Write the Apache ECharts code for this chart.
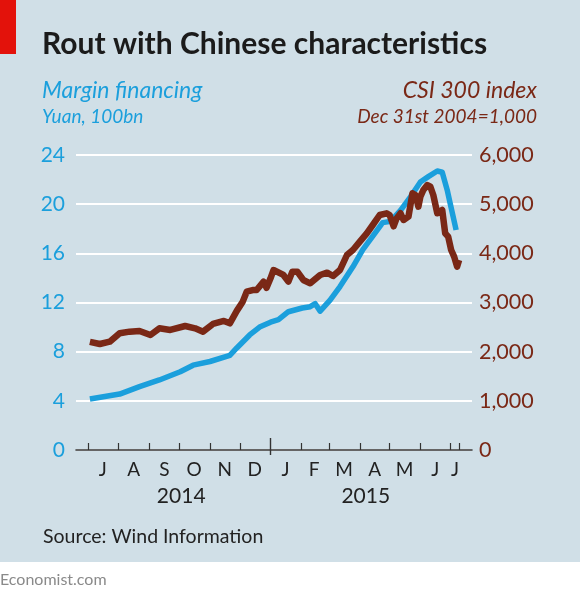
<!DOCTYPE html>
<html>
<head>
<meta charset="utf-8">
<script src="https://cdn.jsdelivr.net/npm/echarts@6/dist/echarts.min.js"></script>
<style>
  html, body { margin: 0; padding: 0; background: #fff; }
  #chart { width: 580px; height: 598px; }
</style>
</head>
<body>
<div id="chart"></div>
<script>
// margin financing, yuan 100bn
var marginDates = ['2014-07-03', '2014-07-18', '2014-08-02', '2014-08-22', '2014-09-11', '2014-10-02',
  '2014-10-15', '2014-11-01', '2014-11-21', '2014-11-28', '2014-12-11', '2014-12-21', '2015-01-01',
  '2015-01-09', '2015-01-19', '2015-02-02', '2015-02-10', '2015-02-15', '2015-02-20', '2015-03-02',
  '2015-03-12', '2015-03-25', '2015-04-04', '2015-04-14', '2015-04-24', '2015-05-02', '2015-05-12',
  '2015-05-22', '2015-05-30', '2015-06-01', '2015-06-09', '2015-06-18', '2015-06-23', '2015-06-28',
  '2015-07-01', '2015-07-04', '2015-07-07'];
var marginValues = [4.15, 4.35, 4.55, 5.15, 5.7, 6.37,
  6.9, 7.2, 7.7, 8.3, 9.36, 10.0, 10.4,
  10.6, 11.25, 11.55, 11.66, 11.9, 11.3, 12.2,
  13.3, 14.9, 16.3, 17.4, 18.5, 18.6, 19.5,
  20.6, 21.56, 21.8, 22.24, 22.7, 22.6, 21.16,
  20.07, 18.98, 17.9];

// CSI 300 index
var csiDates = ['2014-07-03', '2014-07-13', '2014-07-23', '2014-08-02', '2014-08-12', '2014-08-22',
  '2014-09-02', '2014-09-11', '2014-09-22', '2014-10-07', '2014-10-17', '2014-10-25', '2014-11-04',
  '2014-11-15', '2014-11-21', '2014-11-28', '2014-12-04', '2014-12-08', '2014-12-14', '2014-12-18',
  '2014-12-25', '2014-12-28', '2015-01-01', '2015-01-04', '2015-01-14', '2015-01-19', '2015-01-23',
  '2015-01-28', '2015-02-03', '2015-02-10', '2015-02-20', '2015-02-27', '2015-03-05', '2015-03-12',
  '2015-03-19', '2015-03-25', '2015-04-01', '2015-04-08', '2015-04-14', '2015-04-21', '2015-04-28',
  '2015-05-01', '2015-05-05', '2015-05-08', '2015-05-12', '2015-05-15', '2015-05-20', '2015-05-24',
  '2015-05-27', '2015-05-30', '2015-06-01', '2015-06-04', '2015-06-08', '2015-06-11', '2015-06-14',
  '2015-06-18', '2015-06-23', '2015-06-26', '2015-06-29', '2015-07-02', '2015-07-05', '2015-07-08',
  '2015-07-10'];
var csiValues = [2200, 2156, 2203, 2373, 2407, 2420,
  2339, 2475, 2441, 2522, 2475, 2407, 2563,
  2624, 2577, 2830, 3017, 3220, 3254, 3254,
  3424, 3300, 3492, 3661, 3560, 3424, 3627,
  3627, 3458, 3390, 3560, 3607, 3539, 3661,
  3966, 4068, 4237, 4407, 4576, 4780, 4814,
  4780, 4550, 4710, 4814, 4678, 4746, 5221,
  5187, 4950, 5153, 5288, 5390, 5356, 5187,
  4814, 4882, 4407, 4339, 4068, 3932, 3729,
  3865];

// axis ticks and labels
var monthTicks = ['2014-07-01', '2014-08-01', '2014-09-01', '2014-10-01', '2014-11-01', '2014-12-01',
  '2015-02-01', '2015-03-01', '2015-04-01', '2015-05-01', '2015-06-01', '2015-07-01', '2015-07-10'];
var monthLabelDates = ['2014-07-16', '2014-08-16', '2014-09-16', '2014-10-16', '2014-11-16', '2014-12-16',
  '2015-01-16', '2015-02-14', '2015-03-16', '2015-04-16', '2015-05-16', '2015-06-16', '2015-07-06'];
var monthLabels = ['J', 'A', 'S', 'O', 'N', 'D', 'J', 'F', 'M', 'A', 'M', 'J', 'J'];
var yearTicks = ['2015-01-01'];
var yearLabelDates = ['2014-10-03', '2015-04-07'];
var yearLabels = ['2014', '2015'];

var FONT = 'Lato';
var BLUE = '#1b9fdc';
var BROWN = '#7a2816';
var BG = '#d0dfe7';

// days since Jul 1st 2014
var ORIGIN = Date.UTC(2014, 6, 1);
function day(s) {
  var p = s.split('-');
  return Math.round((Date.UTC(+p[0], +p[1] - 1, +p[2]) - ORIGIN) / 86400000);
}

function labelFor(dates, labels) {
  var map = {};
  dates.forEach(function (d, i) { map[day(d)] = labels[i]; });
  return function (v) { return map[Math.round(v)] || ''; };
}

var X_MIN = day('2014-06-19');
var X_MAX = day('2015-07-23');

var chart = echarts.init(document.getElementById('chart'), null, { renderer: 'canvas' });

var option = {
  backgroundColor: '#fff',
  animation: false,
  textStyle: { fontFamily: FONT },
  graphic: [
    { type: 'rect', z: -100, silent: true, shape: { x: 0, y: 0, width: 580, height: 562 }, style: { fill: BG } },
    { type: 'rect', z: 10, shape: { x: 0, y: 0, width: 16, height: 54 }, style: { fill: '#e3120b' } },
    { type: 'text', x: 42, y: 44, style: { text: 'Rout with Chinese characteristics', fill: '#1b1b1b',
      font: 'bold 30px ' + FONT, textVerticalAlign: 'middle' } },
    { type: 'text', x: 42, y: 91, style: { text: 'Margin financing', fill: BLUE,
      font: 'italic 23px ' + FONT, textVerticalAlign: 'middle' } },
    { type: 'text', x: 42, y: 117, style: { text: 'Yuan, 100bn', fill: BLUE,
      font: 'italic 19px ' + FONT, textVerticalAlign: 'middle' } },
    { type: 'text', x: 537, y: 91, style: { text: 'CSI 300 index', fill: BROWN, textAlign: 'right',
      font: 'italic 23px ' + FONT, textVerticalAlign: 'middle' } },
    { type: 'text', x: 537, y: 117, style: { text: 'Dec 31st 2004=1,000', fill: BROWN, textAlign: 'right',
      font: 'italic 19px ' + FONT, textVerticalAlign: 'middle' } },
    { type: 'text', x: 43, y: 537, style: { text: 'Source: Wind Information', fill: '#222',
      font: '19.5px ' + FONT, textVerticalAlign: 'middle' } },
    { type: 'text', x: 0, y: 580, style: { text: 'Economist.com', fill: '#8a8a8a',
      font: '16px ' + FONT, textVerticalAlign: 'middle' } }
  ],
  grid: { left: 76, right: 108, top: 155, bottom: 148 },
  xAxis: [{
    type: 'value',
    min: X_MIN,
    max: X_MAX,
    axisLine: { show: true, lineStyle: { color: '#333', width: 1.5 } },
    axisTick: { show: true, inside: true, length: 7, customValues: monthTicks.map(day),
      lineStyle: { color: '#333', width: 1.2 } },
    axisLabel: { show: true, customValues: monthLabelDates.map(day), formatter: labelFor(monthLabelDates, monthLabels),
      color: '#222', fontSize: 19, fontFamily: FONT, margin: 10, showMinLabel: true, showMaxLabel: true },
    splitLine: { show: false }
  }, {
    type: 'value',
    position: 'bottom',
    min: X_MIN,
    max: X_MAX,
    axisLine: { show: false },
    axisTick: { show: true, inside: true, length: 12, customValues: yearTicks.map(day),
      lineStyle: { color: '#333', width: 1.4 } },
    axisLabel: { show: true, customValues: yearLabelDates.map(day), formatter: labelFor(yearLabelDates, yearLabels),
      color: '#222', fontSize: 21, fontFamily: FONT, margin: 36 },
    splitLine: { show: false }
  }, {
    type: 'value',
    position: 'bottom',
    min: X_MIN,
    max: X_MAX,
    axisLine: { show: false },
    axisTick: { show: true, inside: false, length: 5, customValues: yearTicks.map(day),
      lineStyle: { color: '#333', width: 1.4 } },
    axisLabel: { show: false },
    splitLine: { show: false }
  }],
  yAxis: [{
    type: 'value',
    min: 0, max: 24, interval: 4,
    axisLine: { show: false },
    axisTick: { show: false },
    axisLabel: { color: BLUE, fontSize: 21, fontFamily: FONT, margin: 11 },
    splitLine: { show: true, lineStyle: { color: '#fff', width: 2 } }
  }, {
    type: 'value',
    min: 0, max: 6000, interval: 1000,
    axisLine: { show: false },
    axisTick: { show: false },
    axisLabel: { color: BROWN, fontSize: 21.5, fontFamily: FONT, margin: 7,
      formatter: function (v) { return v.toLocaleString('en-US'); } },
    splitLine: { show: false }
  }],
  series: [{
    name: 'Margin financing',
    type: 'line',
    xAxisIndex: 0,
    yAxisIndex: 0,
    data: marginDates.map(function (d, i) { return [day(d), marginValues[i]]; }),
    showSymbol: false,
    lineStyle: { color: BLUE, width: 5.5, join: 'round' },
    z: 3
  }, {
    name: 'CSI 300 index',
    type: 'line',
    xAxisIndex: 0,
    yAxisIndex: 1,
    data: csiDates.map(function (d, i) { return [day(d), csiValues[i]]; }),
    showSymbol: false,
    lineStyle: { color: BROWN, width: 6.5, join: 'round' },
    z: 4
  }]
};

chart.setOption(option);
</script>
</body>
</html>
